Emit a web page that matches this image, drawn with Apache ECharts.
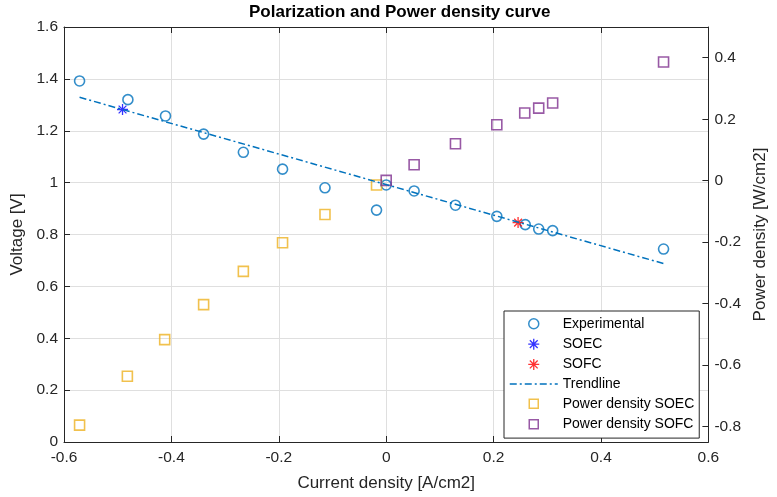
<!DOCTYPE html>
<html>
<head>
<meta charset="utf-8">
<script src="https://cdn.jsdelivr.net/npm/echarts@6/dist/echarts.min.js"></script>
<style>
html, body { margin: 0; padding: 0; background: #fff; }
#chart { width: 777px; height: 497px; }
</style>
</head>
<body>
<div id="chart"></div>
<script>
// measured points: current density [A/cm2] / voltage [V]
const expCurrent = [-0.571, -0.481, -0.411, -0.340, -0.266, -0.193, -0.114, -0.018, 0.0, 0.052, 0.129, 0.206, 0.259, 0.284, 0.310, 0.5165]
const expVoltage = [1.392, 1.320, 1.257, 1.187, 1.117, 1.052, 0.980, 0.894, 0.991, 0.968, 0.913, 0.870, 0.838, 0.821, 0.815, 0.744]
const soecPoint = [-0.491, 1.282]
const sofcPoint = [0.2456, 0.846]
const trendCurrent = [-0.571, 0.5165]
const trendVoltage = [1.329, 0.688]
// power density [W/cm2]
const pdSoecCurrent = [-0.571, -0.482, -0.4125, -0.340, -0.266, -0.193, -0.114, -0.018]
const pdSoecPower = [-0.795, -0.636, -0.517, -0.403, -0.295, -0.202, -0.110, -0.014]
const pdSofcCurrent = [0.0, 0.052, 0.129, 0.206, 0.258, 0.284, 0.310, 0.5165]
const pdSofcPower = [0.001, 0.052, 0.120, 0.182, 0.220, 0.236, 0.253, 0.386]
const rightTicks = [-0.8, -0.6, -0.4, -0.2, 0, 0.2, 0.4]

const zip = (xs, ys) => xs.map((x, i) => [x, ys[i]])

const FONT = 'Liberation Sans, Arial, Helvetica, sans-serif'
const AX = '#262626'
const GRID = '#dfdfdf'
const BLUE = '#0072BD'
const ORANGE = '#EDB120'
const PURPLE = '#7E2F8E'

// asterisk marker like matlab '*'
const starPath = 'path://M0 5L10 5M5 0L5 10M1.46 1.46L8.54 8.54M1.46 8.54L8.54 1.46'
// legend icons padded into a 14x14 box
const legCircle = 'path://M0 0M14 14M12 7A5 5 0 1 1 2 7A5 5 0 1 1 12 7Z'
const legSquare = 'path://M0 0M14 14M2.5 2.5L11.5 2.5L11.5 11.5L2.5 11.5Z'
const legStar = 'path://M0 0M14 14M1.5 7L12.5 7M7 1.5L7 12.5M3.1 3.1L10.9 10.9M3.1 10.9L10.9 3.1'

const chart = echarts.init(document.getElementById('chart'))

const tickStyle = { show: true, inside: true, length: 6, lineStyle: { color: AX, width: 1 } }
const lineStyle = { show: true, onZero: false, lineStyle: { color: AX, width: 1 } }
const labelStyle = { color: AX, fontFamily: FONT, fontSize: 15.5 }
const nameStyle = { color: AX, fontFamily: FONT, fontSize: 17 }

const option = {
  animation: false,
  backgroundColor: '#fff',
  title: {
    text: 'Polarization and Power density curve',
    left: 249,
    top: 4,
    padding: 0,
    textStyle: { fontFamily: FONT, fontSize: 17, fontWeight: 'bold', color: '#000' }
  },
  grid: { left: 64, right: 60, top: 27, bottom: 54 },
  xAxis: [
    {
      type: 'value',
      min: -0.6,
      max: 0.6,
      interval: 0.2,
      name: 'Current density [A/cm2]',
      nameLocation: 'middle',
      nameGap: 33,
      nameTextStyle: nameStyle,
      axisLine: lineStyle,
      axisTick: tickStyle,
      axisLabel: Object.assign({ margin: 8 }, labelStyle),
      splitLine: { show: true, lineStyle: { color: GRID, width: 1 } }
    },
    {
      type: 'value',
      position: 'top',
      min: -0.6,
      max: 0.6,
      interval: 0.2,
      axisLine: lineStyle,
      axisTick: tickStyle,
      axisLabel: { show: false },
      splitLine: { show: false }
    }
  ],
  yAxis: [
    {
      type: 'value',
      min: 0,
      max: 1.6,
      interval: 0.2,
      name: 'Voltage [V]',
      nameLocation: 'middle',
      nameRotate: 90,
      nameGap: 34,
      nameTextStyle: nameStyle,
      axisLine: lineStyle,
      axisTick: tickStyle,
      axisLabel: Object.assign({ margin: 6 }, labelStyle),
      splitLine: { show: true, lineStyle: { color: GRID, width: 1 } }
    },
    {
      type: 'value',
      position: 'right',
      min: -0.85,
      max: 0.5,
      name: 'Power density [W/cm2]',
      nameLocation: 'middle',
      nameRotate: 90,
      nameGap: 40,
      nameTextStyle: nameStyle,
      axisLine: lineStyle,
      axisTick: Object.assign({ customValues: rightTicks }, tickStyle),
      axisLabel: Object.assign({ margin: 6, customValues: rightTicks }, labelStyle),
      splitLine: { show: false }
    }
  ],
  legend: {
    orient: 'vertical',
    left: 504,
    top: 311,
    padding: [5, 5, 6, 5],
    itemWidth: 48,
    itemHeight: 14,
    itemGap: 5,
    selectedMode: false,
    backgroundColor: '#fff',
    borderColor: AX,
    borderWidth: 1,
    textStyle: { fontFamily: FONT, fontSize: 14, color: '#000' },
    data: [
      { name: 'Experimental', icon: legCircle, itemStyle: { color: 'rgba(0,0,0,0)', borderColor: BLUE, borderWidth: 1.5 } },
      { name: 'SOEC', icon: legStar, itemStyle: { color: 'rgba(0,0,0,0)', borderColor: '#0000FF', borderWidth: 1.3 } },
      { name: 'SOFC', icon: legStar, itemStyle: { color: 'rgba(0,0,0,0)', borderColor: '#FF0000', borderWidth: 1.3 } },
      // line icon only, hide the default centre dot
      { name: 'Trendline', itemStyle: { color: 'rgba(0,0,0,0)', borderColor: 'rgba(0,0,0,0)', borderWidth: 0 }, lineStyle: { color: BLUE, width: 1.5, type: [7, 3, 2, 3] } },
      { name: 'Power density SOEC', icon: legSquare, itemStyle: { color: 'rgba(0,0,0,0)', borderColor: ORANGE, borderWidth: 1.5 } },
      { name: 'Power density SOFC', icon: legSquare, itemStyle: { color: 'rgba(0,0,0,0)', borderColor: PURPLE, borderWidth: 1.5 } }
    ]
  },
  series: [
    {
      name: 'Experimental',
      type: 'scatter',
      symbol: 'circle',
      symbolSize: 10,
      itemStyle: { color: 'rgba(0,0,0,0)', borderColor: BLUE, borderWidth: 1.6 },
      data: zip(expCurrent, expVoltage)
    },
    {
      name: 'SOEC',
      type: 'scatter',
      symbol: starPath,
      symbolSize: 11,
      itemStyle: { color: 'rgba(0,0,0,0)', borderColor: '#0000FF', borderWidth: 1.3 },
      data: [soecPoint]
    },
    {
      name: 'SOFC',
      type: 'scatter',
      symbol: starPath,
      symbolSize: 11,
      itemStyle: { color: 'rgba(0,0,0,0)', borderColor: '#FF0000', borderWidth: 1.3 },
      data: [sofcPoint]
    },
    {
      name: 'Trendline',
      type: 'line',
      symbol: 'none',
      color: BLUE,
      lineStyle: { color: BLUE, width: 1.5, type: [7, 3, 2, 3] },
      data: zip(trendCurrent, trendVoltage)
    },
    {
      name: 'Power density SOEC',
      type: 'scatter',
      yAxisIndex: 1,
      symbol: 'rect',
      symbolSize: 10,
      itemStyle: { color: 'rgba(0,0,0,0)', borderColor: ORANGE, borderWidth: 1.6 },
      data: zip(pdSoecCurrent, pdSoecPower)
    },
    {
      name: 'Power density SOFC',
      type: 'scatter',
      yAxisIndex: 1,
      symbol: 'rect',
      symbolSize: 10,
      itemStyle: { color: 'rgba(0,0,0,0)', borderColor: PURPLE, borderWidth: 1.6 },
      data: zip(pdSofcCurrent, pdSofcPower)
    }
  ]
}

chart.setOption(option)
</script>
</body>
</html>
